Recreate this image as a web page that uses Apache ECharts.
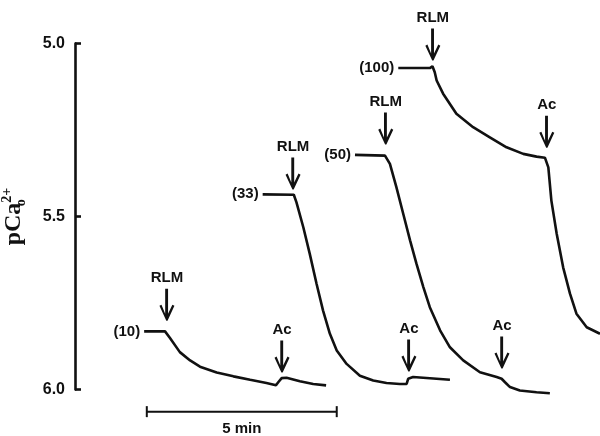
<!DOCTYPE html>
<html>
<head>
<meta charset="utf-8">
<script src="https://cdn.jsdelivr.net/npm/echarts@6/dist/echarts.min.js"></script>
<style>
  html, body { margin: 0; padding: 0; background: #fff; }
  #chart { width: 600px; height: 436px; }
</style>
</head>
<body>
<div id="chart"></div>
<script>
// time in minutes (hidden axis), pCa on the y axis
const yTicks = [5.0, 5.5, 6.0]

const traceNames = ['10', '33', '50', '100']

const trace10 = [
  [1.82, 5.832], [2.37, 5.832], [2.50, 5.851], [2.76, 5.892], [3.03, 5.916],
  [3.29, 5.934], [3.73, 5.951], [4.17, 5.962], [4.61, 5.972], [5.04, 5.981],
  [5.29, 5.988], [5.35, 5.979], [5.44, 5.967], [5.57, 5.966], [5.92, 5.976],
  [6.27, 5.984], [6.61, 5.988]
]
const trace33 = [
  [4.94, 5.436], [5.76, 5.437], [5.83, 5.459], [6.01, 5.531], [6.18, 5.608],
  [6.36, 5.695], [6.53, 5.772], [6.71, 5.839], [6.89, 5.887], [7.15, 5.926],
  [7.50, 5.960], [7.85, 5.974], [8.20, 5.981], [8.55, 5.984], [8.73, 5.984],
  [8.77, 5.969], [8.90, 5.964], [9.87, 5.972]
]
const trace50 = [
  [7.37, 5.322], [8.16, 5.324], [8.29, 5.348], [8.46, 5.415], [8.64, 5.492],
  [8.82, 5.569], [8.99, 5.637], [9.17, 5.704], [9.34, 5.762], [9.61, 5.829],
  [9.87, 5.878], [10.22, 5.916], [10.66, 5.950], [11.10, 5.964], [11.23, 5.969],
  [11.32, 5.979], [11.45, 5.993], [11.71, 6.003], [12.15, 6.008], [12.50, 6.011]
]
const trace100 = [
  [8.51, 5.071], [9.34, 5.071], [9.41, 5.066], [9.47, 5.083], [9.52, 5.107],
  [9.69, 5.145], [10.04, 5.203], [10.48, 5.242], [10.92, 5.271], [11.36, 5.300],
  [11.80, 5.319], [12.15, 5.327], [12.37, 5.330], [12.46, 5.358], [12.54, 5.454],
  [12.68, 5.550], [12.85, 5.647], [13.03, 5.723], [13.20, 5.781], [13.47, 5.820],
  [13.82, 5.839]
]
const traces = [trace10, trace33, trace50, trace100]

// arrow tips (where each arrow points), one per trace
const rlmTips = [[2.42, 5.801], [5.74, 5.422], [8.18, 5.292], [9.42, 5.049]]
const acTips = [[5.45, 5.951], [8.79, 5.948], [11.24, 5.939], [12.42, 5.301]]

// 5 min scale bar
const scaleBar = [[1.89, 6.064], [4.39, 6.064], [6.89, 6.064]]
const scaleLabel = '5 min'

const ARROW = 'path://M5.6 0 L8.4 0 L8.4 25 L12.6 16 L14.6 17.2 L7.9 32 L6.7 32 L0 17.2 L2 16 L5.6 25 Z'
const BAR = 'path://M0 0 L2 0 L2 10 L0 10 Z'
const FONT = 'Liberation Sans'

const chart = echarts.init(document.getElementById('chart'))

function arrowMarks(i) {
  return {
    symbol: ARROW,
    symbolSize: [15, 32],
    symbolOffset: [0, '-50%'],
    itemStyle: { color: '#111' },
    label: {
      show: true,
      position: 'top',
      distance: 3,
      formatter: '{b}',
      color: '#111',
      fontFamily: FONT,
      fontWeight: 'bold',
      fontSize: 15
    },
    data: [
      { name: 'RLM', coord: rlmTips[i] },
      { name: 'Ac', coord: acTips[i] }
    ]
  }
}

const series = traces.map((pts, i) => ({
  name: traceNames[i],
  type: 'line',
  clip: false,
  symbol: 'circle',
  symbolSize: 0,
  showSymbol: true,
  lineStyle: { color: '#111', width: 2.6 },
  itemStyle: { color: '#111' },
  label: {
    show: false,
    position: 'left',
    distance: 4,
    formatter: '({a})',
    color: '#111',
    fontFamily: FONT,
    fontWeight: 'bold',
    fontSize: 15
  },
  data: pts.map((p, j) => j === 0 ? { value: p, label: { show: true } } : p),
  markPoint: arrowMarks(i)
}))

series.push({
  name: 'scale',
  type: 'line',
  clip: false,
  symbol: BAR,
  symbolSize: [2, 11],
  lineStyle: { color: '#111', width: 2 },
  itemStyle: { color: '#111' },
  data: scaleBar.map((p, j) => j === 1
    ? {
        value: p,
        symbolSize: 0,
        label: {
          show: true,
          position: 'bottom',
          distance: 10,
          formatter: scaleLabel,
          color: '#111',
          fontFamily: FONT,
          fontWeight: 'bold',
          fontSize: 15
        }
      }
    : p)
})

const option = {
  animation: false,
  grid: { left: 75, right: 0, top: 43.5, bottom: 46.5, outerBoundsMode: 'none' },
  xAxis: {
    type: 'value',
    min: 0,
    max: 13.82,
    show: false
  },
  yAxis: {
    type: 'value',
    inverse: true,
    min: yTicks[0],
    max: yTicks[yTicks.length - 1],
    interval: 0.5,
    name: '{b|pCa}{o|o}{t|2+}',
    nameLocation: 'middle',
    nameGap: 47,
    nameTextStyle: {
      rich: {
        b: { fontFamily: 'Liberation Serif', fontWeight: 'bold', fontSize: 24, color: '#111', lineHeight: 28, verticalAlign: 'middle' },
        o: { fontFamily: 'Liberation Serif', fontWeight: 'bold', fontSize: 14, color: '#111', width: 0, verticalAlign: 'bottom', lineHeight: 28 },
        t: { fontFamily: 'Liberation Serif', fontWeight: 'bold', fontSize: 14, color: '#111', verticalAlign: 'top', lineHeight: 28 }
      }
    },
    axisLine: { show: true, lineStyle: { color: '#111', width: 2.6 } },
    axisTick: { show: true, inside: true, length: 6, lineStyle: { color: '#111', width: 2.6 } },
    axisLabel: {
      margin: 10,
      color: '#111',
      fontFamily: FONT,
      fontWeight: 'bold',
      fontSize: 16,
      formatter: v => v.toFixed(1)
    },
    splitLine: { show: false }
  },
  series: series
}

chart.setOption(option)
</script>
</body>
</html>
